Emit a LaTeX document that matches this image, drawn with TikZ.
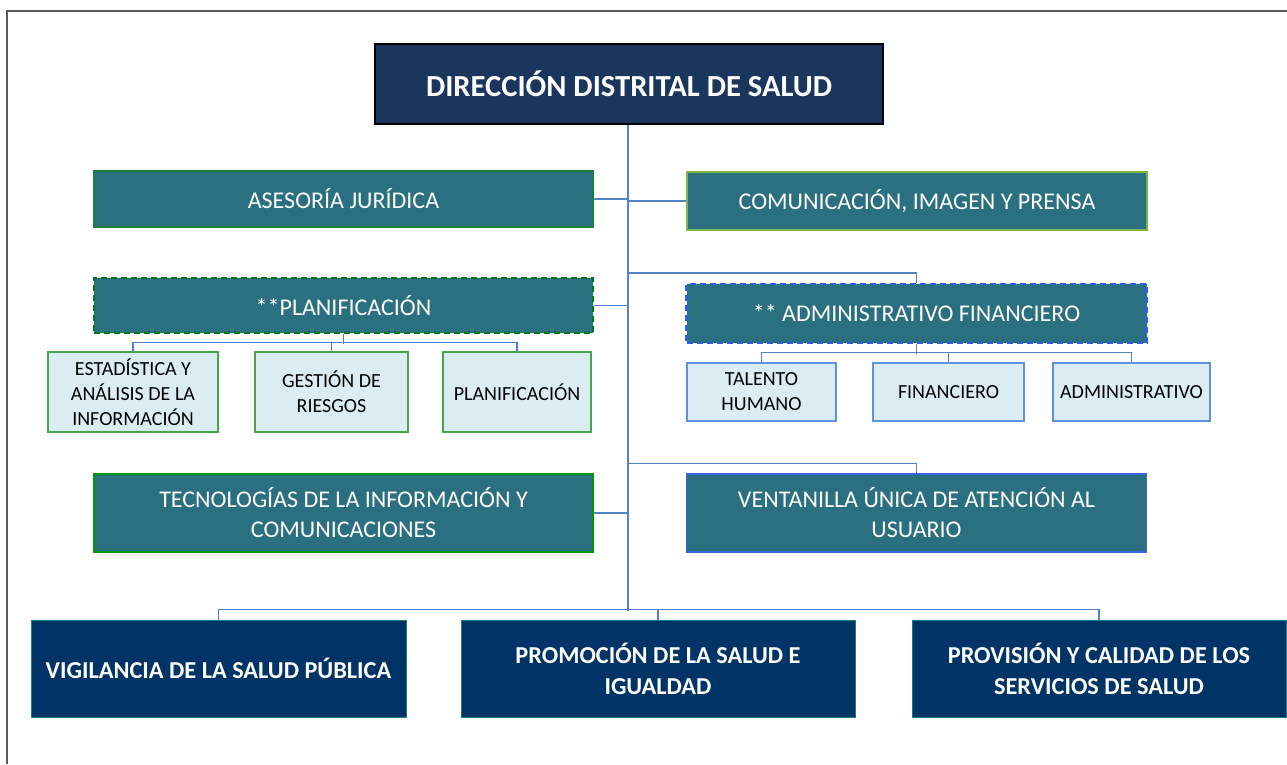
\documentclass[tikz,border=0pt]{standalone}
\usepackage{fontspec}
\setmainfont{Carlito}
\usepackage{tikz}
\usepackage{xcolor}

\definecolor{dirnavy}{RGB}{26,54,93}
\definecolor{unitteal}{RGB}{42,112,128}
\definecolor{areanavy}{RGB}{0,51,102}
\definecolor{subblue}{RGB}{219,237,243}
\definecolor{linkblue}{RGB}{84,130,200}
\definecolor{darkgreen}{RGB}{28,128,56}
\definecolor{lightgreen}{RGB}{122,182,72}
\definecolor{plangreen}{RGB}{0,120,20}
\definecolor{subgreen}{RGB}{70,165,70}
\definecolor{admblue}{RGB}{45,95,235}
\definecolor{ventblue}{RGB}{55,100,225}
\definecolor{subedge}{RGB}{95,145,220}
\definecolor{areaedge}{RGB}{30,125,125}

\begin{document}
\begin{tikzpicture}[x=1pt, y=-1pt,
    box/.style={draw, rectangle, inner sep=0pt, align=center},
    unit/.style={box, fill=unitteal, text=white, line width=1.2pt,
        font=\fontsize{24}{30}\selectfont, minimum width=460},
    sub/.style={box, fill=subblue, text=black, line width=1.1pt,
        font=\fontsize{20}{25}\selectfont, minimum height=58},
    area/.style={box, fill=areanavy, text=white, draw=areaedge, line width=1pt,
        font=\fontsize{24.3}{31}\bfseries\selectfont, minimum height=97},
    link/.style={draw=linkblue, line width=1.5pt}]
        \useasboundingbox (0, 0) rectangle (1287, 764);
        \path[draw, gray!70!black, line width=1.5pt] (7, 764) -- (7, 11) -- (1287, 11);

        % direction
        \node[box, fill=dirnavy, text=white, draw=black, line width=1.2pt,
            minimum width=508, minimum height=80,
            font=\fontsize{30.6}{36}\bfseries\selectfont] (dir) at (629, 84) {DIRECCIÓN DISTRITAL DE SALUD};

        % advisory and support units
        \node[unit, draw=darkgreen, minimum width=499, minimum height=56] (ase) at (343.5, 199) {ASESORÍA JURÍDICA};
        \node[unit, draw=lightgreen, minimum height=58] (com) at (917, 201) {COMUNICACIÓN, IMAGEN Y PRENSA};
        \node[unit, draw=plangreen, line width=2.5pt, dash pattern=on 6pt off 4pt,
            minimum width=499, minimum height=55] (plan) at (343.5, 305.5) {**PLANIFICACIÓN};
        \node[unit, draw=admblue, line width=2.5pt, dash pattern=on 6pt off 4pt,
            minimum height=59] (adm) at (916.5, 313.5) {** ADMINISTRATIVO FINANCIERO};
        \node[unit, draw=green!60!black, minimum width=499, minimum height=78] (tec) at (343.5, 513) {TECNOLOGÍAS DE LA INFORMACIÓN Y\\COMUNICACIONES};
        \node[unit, draw=ventblue, minimum height=78] (ven) at (916.5, 513) {VENTANILLA ÚNICA DE ATENCIÓN AL\\USUARIO};

        % planning processes
        \node[sub, draw=subgreen, minimum width=170, minimum height=80] (est) at (133, 392) {ESTADÍSTICA Y\\ANÁLISIS DE LA\\INFORMACIÓN};
        \node[sub, draw=subgreen, minimum width=153, minimum height=80] (ges) at (331.5, 392) {GESTIÓN DE\\RIESGOS};
        \node[sub, draw=subgreen, minimum width=148, minimum height=80] (pla) at (517, 392) {PLANIFICACIÓN};

        % administrative processes
        \node[sub, draw=subedge, minimum width=149] (tal) at (761.5, 392) {TALENTO\\HUMANO};
        \node[sub, draw=subedge, minimum width=151] (fin) at (948.5, 392) {FINANCIERO};
        \node[sub, draw=subedge, minimum width=157] (adt) at (1131.5, 392) {ADMINISTRATIVO};

        % operative areas
        \node[area, minimum width=375] (vig) at (218.5, 668.5) {VIGILANCIA DE LA SALUD PÚBLICA};
        \node[area, minimum width=394] (pro) at (658, 668.5) {PROMOCIÓN DE LA SALUD E\\IGUALDAD};
        \node[area, minimum width=374] (prv) at (1099, 668.5) {PROVISIÓN Y CALIDAD DE LOS\\SERVICIOS DE SALUD};

        % connectors
        \coordinate (hub) at (628, 610);
        \path[link] (dir.south -| hub) -- (hub);
        \path[link] (ase.east) -- (ase.east -| hub);
        \path[link] (com.west) -- (com.west -| hub);
        \path[link] (plan.east) -- (plan.east -| hub);
        \path[link] (tec.east) -- (tec.east -| hub);
        \path[link] (adm.north) -- ++(0, -10) -| (hub);
        \path[link] (ven.north) -- ++(0, -10) -| (hub);

        \path[link] (plan.south) -- ++(0, 10) coordinate (pj);
        \path[link] (est.north) -- ++(0, -9) -| (pj);
        \path[link] (ges.north) -- ++(0, -9) -| (pj);
        \path[link] (pla.north) -- ++(0, -9) -| (pj);

        \path[link] (adm.south) -- ++(0, 10) coordinate (aj);
        \path[link] (tal.north) -- ++(0, -10) -| (aj);
        \path[link] (fin.north) -- ++(0, -10) -| (aj);
        \path[link] (adt.north) -- ++(0, -10) -| (aj);

        \path[link] (vig.north) -- ++(0, -10) -| (hub);
        \path[link] (pro.north) -- ++(0, -10);
        \path[link] (prv.north) -- ++(0, -10) -| (hub);
    \end{tikzpicture}
\end{document}
